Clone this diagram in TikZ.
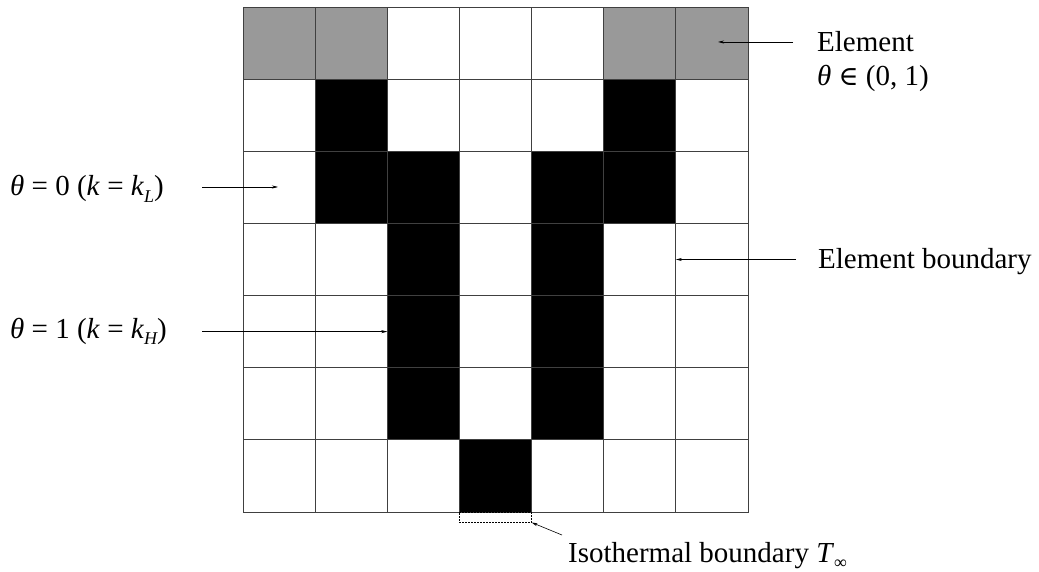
\documentclass[tikz,border=0pt]{standalone}
\usepackage{fontspec}
\setmainfont{Liberation Serif}
\newfontfamily\symfont{DejaVu Serif}
\usetikzlibrary{arrows.meta}
\newcommand{\sbs}[1]{\raisebox{-0.22em}{\fontsize{18}{18}\selectfont #1}}
\begin{document}
\begin{tikzpicture}[x=1pt,y=-1pt,
  cell/.style={draw=black!75, line width=0.7pt, minimum size=72.14pt, inner sep=0pt, outer sep=0pt, anchor=north west},
  w/.style={cell, fill=white},
  b/.style={cell, fill=black},
  g/.style={cell, fill=black!40},
  lbl/.style={font=\fontsize{29}{33}\selectfont, inner sep=0pt, anchor=base west},
  arr/.style={-{Stealth[length=6pt,width=3pt]}, line width=0.6pt}]
\useasboundingbox (0,0) rectangle (1039,572);
\foreach \r/\row in {0/{g,g,w,w,w,g,g},1/{w,b,w,w,w,b,w},2/{w,b,b,w,b,b,w},3/{w,w,b,w,b,w,w},4/{w,w,b,w,b,w,w},5/{w,w,b,w,b,w,w},6/{w,w,w,b,w,w,w}}{
  \foreach \t [count=\c from 0] in \row {
    \node[\t] (c-\r-\c) at ({243+\c*72.14},{7+\r*72.14}) {};
  }
}
% isothermal boundary (dashed)
\node[draw, dashed, dash pattern=on 2pt off 1pt, line width=0.6pt, minimum width=72.14pt, minimum height=10.5pt, inner sep=0pt, outer sep=0pt, anchor=north west] (iso) at (c-6-3.south west) {};
% labels
\node[lbl] (el) at (817,52) {Element};
\node[lbl] (elt) at (817,86) {\itshape θ\upshape\ {\symfont\fontsize{27}{30}\selectfont ∈} (0, 1)};
\node[lbl] (eb) at (818,269) {Element boundary};
\node[lbl] (t0) at (10,196) {\itshape θ\upshape\ = 0 (\textit{k} = \textit{k}\sbs{\itshape L})};
\node[lbl] (t1) at (10,338) {\itshape θ\upshape\ = 1 (\textit{k} = \textit{k}\sbs{\itshape H})};
\node[lbl] (isl) at (568,562) {Isothermal boundary \textit{T}\sbs{∞}};
% arrow endpoints
\coordinate (a1s) at (793,42);  \coordinate (a1e) at (718,42);
\coordinate (a2s) at (796,0);   \coordinate (a2e) at (c-3-6.west);
\coordinate (a3s) at (202,187); \coordinate (a3e) at (278,187);
\coordinate (a4s) at (202,0);   \coordinate (a4e) at (c-4-2.west);
\coordinate (a5s) at (562,535);
\draw[arr] (a1s) -- (a1e);
\draw[arr] (a2e -| a2s) -- (a2e);
\draw[arr] (a3s) -- (a3e);
\draw[arr] (a4e -| a4s) -- (a4e);
\draw[arr] (a5s) -- (iso.south east);
\end{tikzpicture}
\end{document}
